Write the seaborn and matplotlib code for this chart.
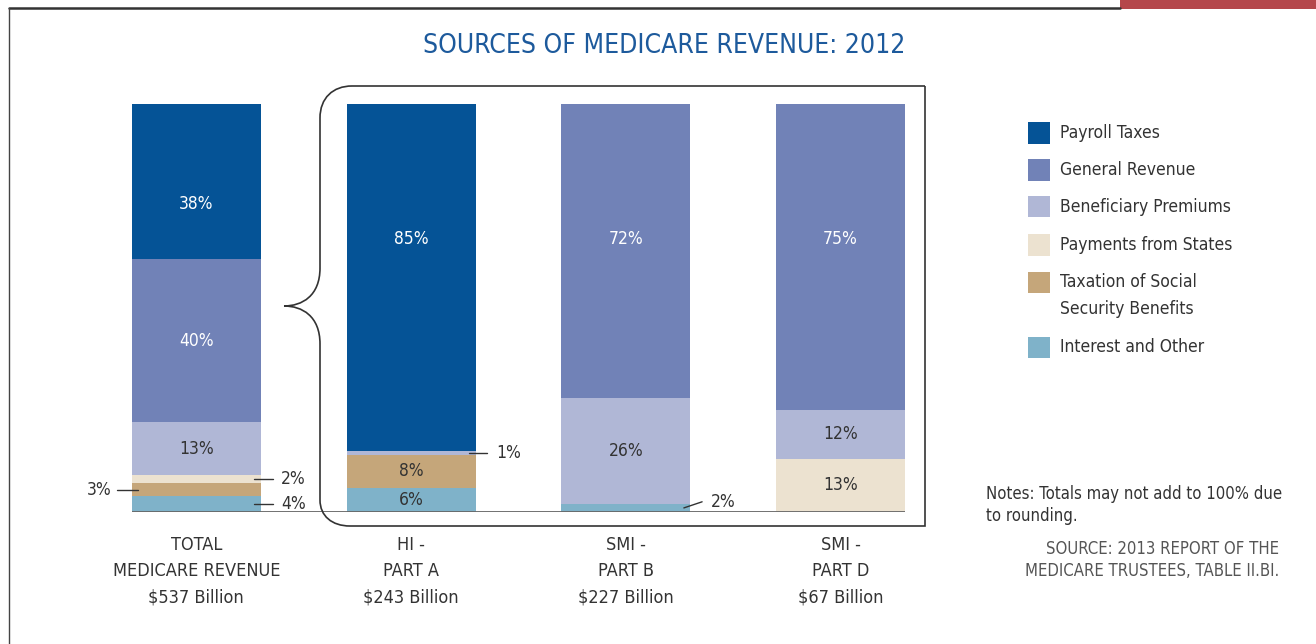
# stacked bars: sources of medicare revenue 2012
import numpy as np
import pandas as pd
import seaborn as sns
import matplotlib.pyplot as plt
from matplotlib import font_manager as fm
from matplotlib.path import Path
from matplotlib.patches import PathPatch, Rectangle
from matplotlib.lines import Line2D

# data (percent of each program's revenue)
categories = ["TOTAL\nMEDICARE REVENUE\n$537 Billion", "HI -\nPART A\n$243 Billion",
              "SMI -\nPART B\n$227 Billion", "SMI -\nPART D\n$67 Billion"]
sources = ["Payroll Taxes", "General Revenue", "Beneficiary Premiums",
           "Payments from States", "Taxation of Social\nSecurity Benefits", "Interest and Other"]
payroll = [38, 85, 0, 0]
general = [40, 0, 72, 75]
premiums = [13, 1, 26, 12]
states = [2, 0, 0, 13]
taxation = [3, 8, 0, 0]
interest = [4, 6, 2, 0]
colors = ["#055396", "#7182b7", "#b0b7d6", "#ece2d0", "#c5a67a", "#7fb2c9"]
label_colors = ["white", "white", "#333333", "#333333", "#333333", "#333333"]

# small segments labelled outside the bar: (bar, source index, side, y shift)
outside = [(0, 3, "right", 0), (0, 4, "left", 0), (0, 5, "right", 0),
           (1, 2, "right", 0), (2, 5, "right", 1.5)]
top_label_y = [75.5, 67, 67, 67]

W, H = 1316, 644
sns.set_style("white")

# look for a narrow face, the original uses a condensed grotesque
names = {f.name for f in fm.fontManager.ttflist}
cond = sorted({f.name for f in fm.fontManager.ttflist
               if "Narrow" in f.name or "Condensed" in f.name
               or f.stretch in ("condensed", "semi-condensed")})
stretch = "normal"
if "Liberation Sans Narrow" in names:
    family = "Liberation Sans Narrow"
elif "DejaVu Sans Condensed" in names:
    family = "DejaVu Sans Condensed"
elif any(f.name == "DejaVu Sans" and f.stretch == "condensed" for f in fm.fontManager.ttflist):
    family = "DejaVu Sans"
    stretch = "condensed"
elif cond:
    family = cond[0]
else:
    family = "Roboto"
plt.rcParams["font.family"] = [family, "DejaVu Sans"]
plt.rcParams["font.stretch"] = stretch
TXT = "#333333"
PCT = 12.5

fig = plt.figure(figsize=(W / 100, H / 100), dpi=100)
ax = fig.add_axes([89 / W, 1 - 512 / H, 859 / W, 408 / H])

def px(x, y):
    return (x / W, 1 - y / H)

# bottom -> top stacking order
stack = [interest, taxation, states, premiums, general, payroll]
stack_colors = colors[::-1]
cum = np.cumsum(np.array(stack), axis=0)

# draw cumulative totals from the tallest down so each layer overlaps the next
for k in range(len(stack) - 1, -1, -1):
    df = pd.DataFrame({"cat": categories, "val": cum[k]})
    sns.barplot(data=df, x="cat", y="val", color=stack_colors[k], saturation=1,
                width=0.6, ax=ax, linewidth=0)

ax.set_xlim(-0.5, 3.5)
ax.set_ylim(0, 100)
ax.set_xlabel("")
ax.set_ylabel("")
ax.set_yticks([])
sns.despine(ax=ax, left=True, bottom=True)
ax.tick_params(axis="x", length=0, pad=17, labelsize=13, labelcolor=TXT)
for lbl in ax.get_xticklabels():
    lbl.set_linespacing(1.6)
ax.hlines(0, -0.3, 3.3, color="#666666", lw=1.3, zorder=5)

# segment labels, segs run bottom -> top so source index = 5 - k
for i in range(len(categories)):
    bottom = 0
    for k in range(len(stack)):
        v = stack[k][i]
        b = bottom
        bottom += v
        s = 5 - k
        if v == 0:
            continue
        mid = b + v / 2
        spec = [o for o in outside if o[0] == i and o[1] == s]
        if spec:
            _, _, side, dy = spec[0]
            if side == "right":
                ax.plot([i + 0.27, i + 0.355], [mid, mid + dy], color=TXT, lw=1, zorder=6,
                        clip_on=False)
                ax.text(i + 0.395, mid + dy, f"{v}%", ha="left", va="center",
                        fontsize=PCT, color=TXT)
            else:
                ax.plot([i - 0.37, i - 0.27], [mid, mid], color=TXT, lw=1, zorder=6,
                        clip_on=False)
                ax.text(i - 0.395, mid, f"{v}%", ha="right", va="center",
                        fontsize=PCT, color=TXT)
            continue
        y = top_label_y[i] if b + v >= 99.5 else mid
        ax.text(i, y, f"{v}%", ha="center", va="center", fontsize=PCT, color=label_colors[s])

# title
fig.text(664 / W, 1 - 46 / H, "SOURCES OF MEDICARE REVENUE: 2012", ha="center", va="center",
         fontsize=19, color="#1d5a9c")

# frame around the figure and red tab
fig.add_artist(Line2D([9 / W, 1120 / W], [1 - 8 / H, 1 - 8 / H], color="#333333", lw=1.8))
fig.add_artist(Line2D([9 / W, 9 / W], [1 - 8 / H, 0], color="#444444", lw=1))
fig.add_artist(Rectangle(px(1120, 9), 196 / W, 9 / H, color="#b5474b", lw=0))

# brace box around the trust fund bars
verts = [px(925, 86), px(352, 86),
         px(333, 86), px(320, 98), px(320, 118),
         px(320, 268),
         px(320, 296), px(302, 306), px(284, 306),
         px(302, 306), px(320, 316), px(320, 344),
         px(320, 500),
         px(320, 516), px(332, 526), px(350, 526),
         px(925, 526), px(925, 86)]
codes = [Path.MOVETO, Path.LINETO,
         Path.CURVE4, Path.CURVE4, Path.CURVE4,
         Path.LINETO,
         Path.CURVE4, Path.CURVE4, Path.CURVE4,
         Path.CURVE4, Path.CURVE4, Path.CURVE4,
         Path.LINETO,
         Path.CURVE4, Path.CURVE4, Path.CURVE4,
         Path.LINETO, Path.LINETO]
fig.add_artist(PathPatch(Path(verts, codes), transform=fig.transFigure, fill=False,
                         edgecolor="#333333", lw=1.2))

# legend
legend_y = [133, 170, 207, 245, 282, 347]
for s, name in enumerate(sources):
    fig.add_artist(Rectangle(px(1028, legend_y[s] + 10.5), 22 / W, 21 / H,
                             color=colors[s], lw=0))
    yy = legend_y[s] + (13.5 if "\n" in name else 0)
    fig.text(1060 / W, 1 - yy / H, name, ha="left", va="center", fontsize=12.5,
             color=TXT, linespacing=1.6)

# notes and source
fig.text(986 / W, 1 - 505 / H, "Notes: Totals may not add to 100% due\nto rounding.",
         ha="left", va="center", fontsize=12, color=TXT, linespacing=1.25)
fig.text(1279 / W, 1 - 560 / H, "SOURCE: 2013 REPORT OF THE\nMEDICARE TRUSTEES, TABLE II.BI.",
         ha="right", va="center", fontsize=12, color="#555555", linespacing=1.3)

plt.savefig("out.png", dpi=100)
